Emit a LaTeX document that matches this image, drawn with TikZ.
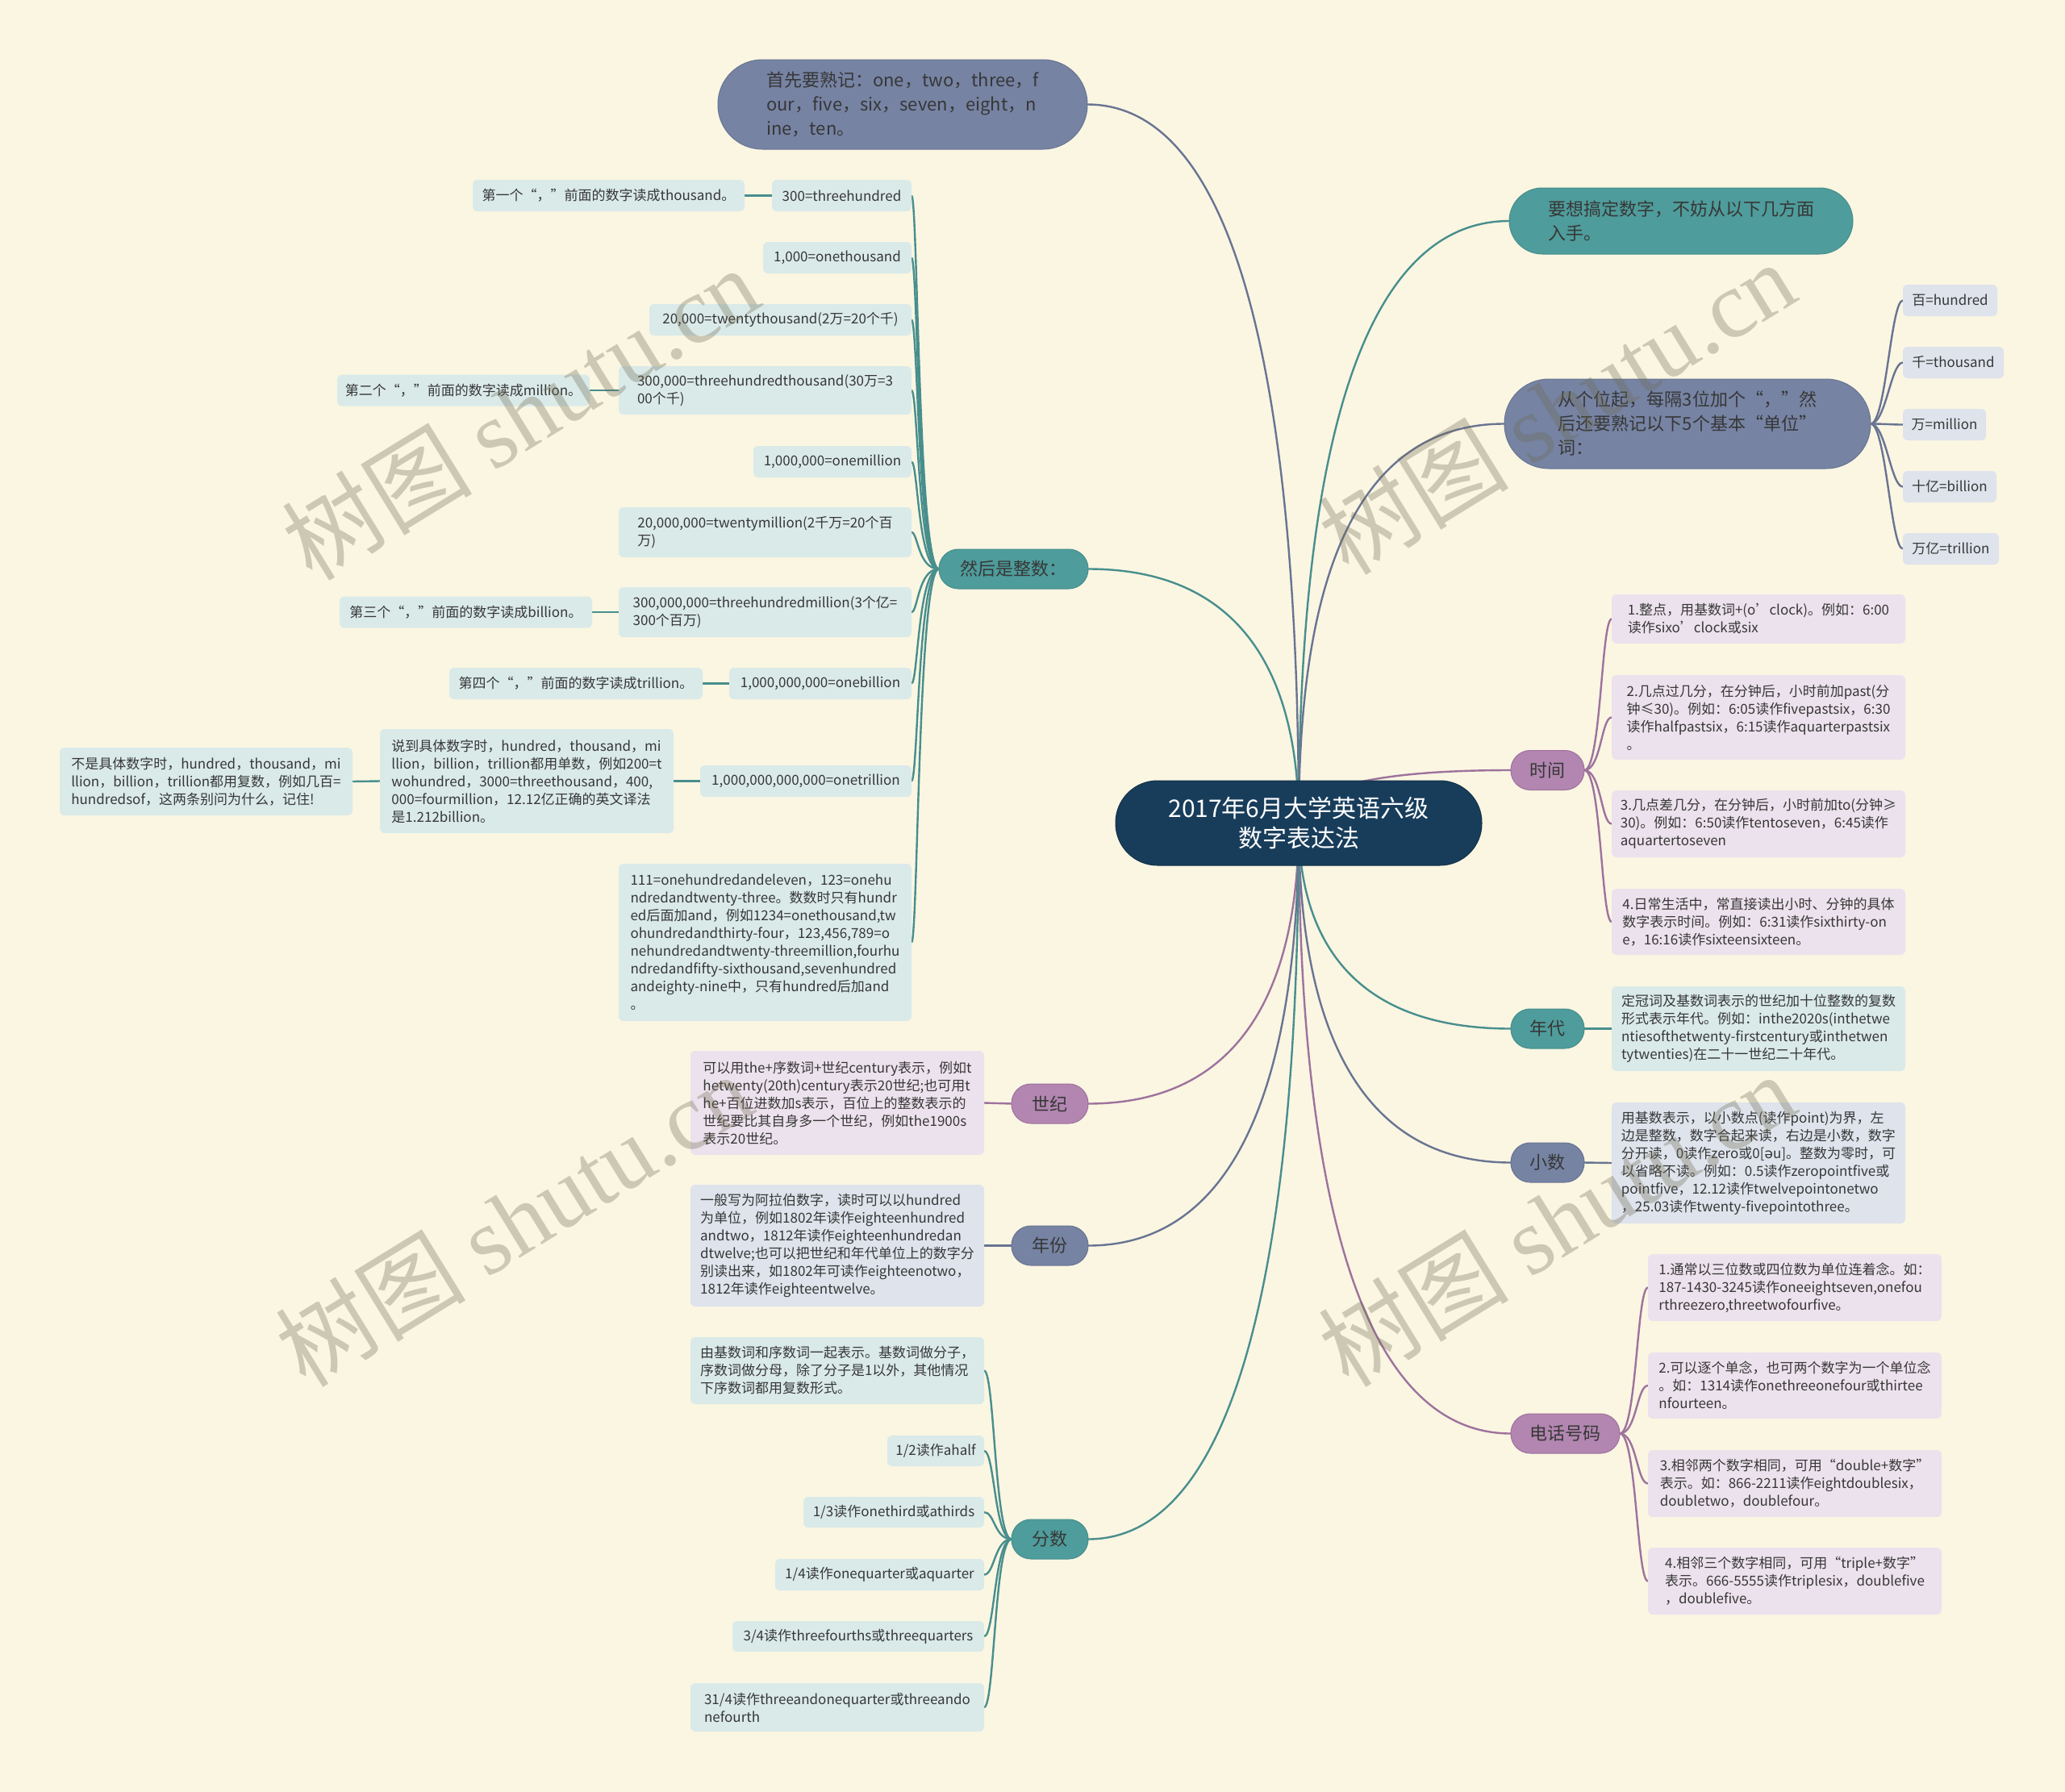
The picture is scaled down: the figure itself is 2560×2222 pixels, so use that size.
\documentclass[tikz,border=0pt]{standalone}
\usepackage{fontspec}
\setmainfont{Noto Sans CJK SC}
\newfontfamily\dejavu{DejaVu Sans}
\newfontfamily\wmserif{Liberation Serif}
\usetikzlibrary{backgrounds}
\definecolor{bgc}{RGB}{250,246,226}
\definecolor{navy}{RGB}{24,61,91}
\definecolor{cTeal}{RGB}{78,156,155}
\definecolor{cSlate}{RGB}{118,131,163}
\definecolor{cMauve}{RGB}{178,134,177}
\definecolor{lTeal}{RGB}{218,234,233}
\definecolor{lSlate}{RGB}{222,227,236}
\definecolor{lMauve}{RGB}{236,226,237}
\definecolor{eTeal}{RGB}{72,142,141}
\definecolor{eSlate}{RGB}{105,116,146}
\definecolor{eMauve}{RGB}{158,114,157}
\definecolor{txt}{RGB}{55,55,55}
\definecolor{wmc}{RGB}{110,105,80}
\newcommand\mybox[6]{\node[#1,minimum width=#4pt,minimum height=#5pt] (#2) at (#3) {#6};}
\tikzset{
  basebox/.style={inner xsep=9pt, inner ysep=6pt, outer sep=0pt, rounded corners=6pt, align=left, text=txt, font=\fontsize{17}{22}\selectfont},
  leafT/.style={basebox, fill=lTeal},
  leafS/.style={basebox, fill=lSlate},
  leafM/.style={basebox, fill=lMauve},
  pillbase/.style={inner xsep=12pt, inner ysep=6pt, outer sep=0pt, align=left, text=txt, font=\fontsize{22}{30}\selectfont},
  labT/.style={pillbase, fill=cTeal, draw=eTeal, line width=1pt, rounded corners=24pt},
  labS/.style={pillbase, fill=cSlate, draw=eSlate, line width=1pt, rounded corners=24pt},
  labM/.style={pillbase, fill=cMauve, draw=eMauve, line width=1pt, rounded corners=24pt},
  bigT/.style={pillbase, fill=cTeal, draw=eTeal, line width=1pt, rounded corners=41pt},
  bigS/.style={pillbase, fill=cSlate, draw=eSlate, line width=1pt, rounded corners=55pt},
  rootst/.style={fill=navy, draw=navy!80!black, line width=1pt, rounded corners=52pt, text=white, align=center, font=\fontsize{30}{37}\selectfont, inner sep=8pt},
  eT/.style={draw=eTeal, line width=2.4pt},
  eS/.style={draw=eSlate, line width=2.4pt},
  eM/.style={draw=eMauve, line width=2.4pt},
  wm/.style={text=wmc, text opacity=0.32, font=\fontsize{118}{118}\selectfont, inner sep=0pt}
}
\begin{document}
\begin{tikzpicture}[x=1pt,y=-1pt]
\useasboundingbox (0,0) rectangle (2560,2222);
\begin{scope}[on background layer]
\fill[bgc] (0,0) rectangle (2560,2222);
\end{scope}

% root
\node[rootst, minimum width=454pt, minimum height=105pt] (root) at (1610,1020.5) {2017年6月大学英语六级\\数字表达法};

% main branches
\mybox{bigS}{L1}{1119,129.5}{458}{111}{首先要熟记：one，two，three，f\\our，five，six，seven，eight，n\\ine，ten。}
\mybox{bigT}{R1}{2084,274}{426}{82}{要想搞定数字，不妨从以下几方面\\入手。}
\mybox{bigS}{R2}{2092,525.5}{454}{111}{从个位起，每隔3位加个“，”然\\后还要熟记以下5个基本“单位”\\词：}
\mybox{labT}{L2}{1256.5,705.5}{185}{49}{然后是整数：}
\mybox{labM}{time}{1918.5,955}{91}{49}{时间}
\mybox{labT}{nd}{1918.5,1275.5}{91}{49}{年代}
\mybox{labS}{xs}{1918.5,1441.5}{91}{49}{小数}
\mybox{labM}{tel}{1940.5,1777.5}{135}{49}{电话号码}
\mybox{labM}{sj}{1301.5,1368.5}{95}{49}{世纪}
\mybox{labS}{nf}{1301.5,1544.5}{95}{49}{年份}
\mybox{labT}{fs}{1301.5,1908.5}{95}{49}{分数}

% units
\mybox{leafS,anchor=west}{u1}{2359,372.5}{117}{39}{百=hundred}
\mybox{leafS,anchor=west}{u2}{2359,449.5}{125}{39}{千=thousand}
\mybox{leafS,anchor=west}{u3}{2359,526.5}{103}{39}{万=million}
\mybox{leafS,anchor=west}{u4}{2359,603.5}{116}{39}{十亿=billion}
\mybox{leafS,anchor=west}{u5}{2359,680.5}{119}{39}{万亿=trillion}

% time
\mybox{leafM,anchor=west}{t1}{1998,767.5}{364}{61}{1.整点，用基数词+(o’clock)。例如：6:00\\读作sixo’clock或six}
\mybox{leafM,anchor=west}{t2}{1998,889.5}{364}{105}{2.几点过几分，在分钟后，小时前加past(分\\钟≤30)。例如：6:05读作fivepastsix，6:30\\读作halfpastsix，6:15读作aquarterpastsix\\。}
\mybox{leafM,anchor=west}{t3}{1998,1021.5}{364}{83}{3.几点差几分，在分钟后，小时前加to(分钟≥\\30)。例如：6:50读作tentoseven，6:45读作\\aquartertoseven}
\mybox{leafM,anchor=west}{t4}{1998,1143}{364}{82}{4.日常生活中，常直接读出小时、分钟的具体\\数字表示时间。例如：6:31读作sixthirty-on\\e，16:16读作sixteensixteen。}

% decade, decimal
\mybox{leafT,anchor=west}{ndc}{1998,1275.5}{364}{105}{定冠词及基数词表示的世纪加十位整数的复数\\形式表示年代。例如：inthe2020s(inthetwe\\ntiesofthetwenty-firstcentury或inthetwen\\tytwenties)在二十一世纪二十年代。}
\mybox{leafS,anchor=west}{xsc}{1998,1442}{364}{150}{用基数表示，以小数点(读作point)为界，左\\边是整数，数字合起来读，右边是小数，数字\\分开读，0读作zero或0[{\dejavu ə}u]。整数为零时，可\\以省略不读。例如：0.5读作zeropointfive或\\pointfive，12.12读作twelvepointonetwo\\，25.03读作twenty-fivepointothree。}

% phone
\mybox{leafM,anchor=west}{p1}{2043,1596.5}{364}{83}{1.通常以三位数或四位数为单位连着念。如：\\187-1430-3245读作oneeightseven,onefou\\rthreezero,threetwofourfive。}
\mybox{leafM,anchor=west}{p2}{2043,1718}{364}{82}{2.可以逐个单念，也可两个数字为一个单位念\\。如：1314读作onethreeonefour或thirtee\\nfourteen。}
\mybox{leafM,anchor=west}{p3}{2043,1839.5}{364}{83}{3.相邻两个数字相同，可用“double+数字”\\表示。如：866-2211读作eightdoublesix，\\doubletwo，doublefour。}
\mybox{leafM,anchor=west}{p4}{2043,1960.5}{364}{83}{4.相邻三个数字相同，可用“triple+数字”\\表示。666-5555读作triplesix，doublefive\\，doublefive。}

% integers
\mybox{leafT,anchor=east}{c1}{1130,242.5}{173}{39}{300=threehundred}
\mybox{leafT,anchor=east}{c2}{1130,319.5}{184}{39}{1,000=onethousand}
\mybox{leafT,anchor=east}{c3}{1130,396.5}{325}{39}{20,000=twentythousand(2万=20个千)}
\mybox{leafT,anchor=east}{c4}{1130,484}{363}{60}{300,000=threehundredthousand(30万=3\\00个千)}
\mybox{leafT,anchor=east}{c5}{1130,572.5}{196}{39}{1,000,000=onemillion}
\mybox{leafT,anchor=east}{c6}{1130,660}{363}{62}{20,000,000=twentymillion(2千万=20个百\\万)}
\mybox{leafT,anchor=east}{c7}{1130,759}{363}{62}{300,000,000=threehundredmillion(3个亿=\\300个百万)}
\mybox{leafT,anchor=east}{c8}{1130,847.5}{226}{39}{1,000,000,000=onebillion}
\mybox{leafT,anchor=east}{c9}{1130,968.5}{262}{39}{1,000,000,000,000=onetrillion}
\mybox{leafT,anchor=east}{c10}{1130,1168.5}{363}{195}{111=onehundredandeleven，123=onehu\\ndredandtwenty-three。数数时只有hundr\\ed后面加and，例如1234=onethousand,tw\\ohundredandthirty-four，123,456,789=o\\nehundredandtwenty-threemillion,fourhu\\ndredandfifty-sixthousand,sevenhundred\\andeighty-nine中，只有hundred后加and\\。}
\mybox{leafT,anchor=east}{d1}{923,242.5}{337}{39}{第一个“，”前面的数字读成thousand。}
\mybox{leafT,anchor=east}{d4}{731,484}{313}{39}{第二个“，”前面的数字读成million。}
\mybox{leafT,anchor=east}{d7}{734,759}{313}{39}{第三个“，”前面的数字读成billion。}
\mybox{leafT,anchor=east}{d8}{871,847.5}{314}{39}{第四个“，”前面的数字读成trillion。}
\mybox{leafT,anchor=east}{d9}{835,968.5}{364}{129}{说到具体数字时，hundred，thousand，mi\\llion，billion，trillion都用单数，例如200=t\\wohundred，3000=threethousand，400,\\000=fourmillion，12.12亿正确的英文译法\\是1.212billion。}
\mybox{leafT,anchor=east}{e9}{437,969}{363}{84}{不是具体数字时，hundred，thousand，mi\\llion，billion，trillion都用复数，例如几百=\\hundredsof，这两条别问为什么，记住!}

% century, year
\mybox{leafM,anchor=east}{sjc}{1220,1367.5}{364}{129}{可以用the+序数词+世纪century表示，例如t\\hetwenty(20th)century表示20世纪;也可用t\\he+百位进数加s表示，百位上的整数表示的\\世纪要比其自身多一个世纪，例如the1900s\\表示20世纪。}
\mybox{leafS,anchor=east}{nfc}{1220,1544.5}{364}{151}{一般写为阿拉伯数字，读时可以以hundred\\为单位，例如1802年读作eighteenhundred\\andtwo，1812年读作eighteenhundredan\\dtwelve;也可以把世纪和年代单位上的数字分\\别读出来，如1802年可读作eighteenotwo，\\1812年读作eighteentwelve。}

% fractions
\mybox{leafT,anchor=east}{f1}{1220,1699.5}{364}{83}{由基数词和序数词一起表示。基数词做分子，\\序数词做分母，除了分子是1以外，其他情况\\下序数词都用复数形式。}
\mybox{leafT,anchor=east}{f2}{1220,1799}{120}{38}{1/2读作ahalf}
\mybox{leafT,anchor=east}{f3}{1220,1875}{224}{38}{1/3读作onethird或athirds}
\mybox{leafT,anchor=east}{f4}{1220,1952.5}{259}{39}{1/4读作onequarter或aquarter}
\mybox{leafT,anchor=east}{f5}{1220,2029}{312}{38}{3/4读作threefourths或threequarters}
\mybox{leafT,anchor=east}{f6}{1220,2117}{364}{60}{31/4读作threeandonequarter或threeando\\nefourth}

% connectors
\begin{scope}[on background layer]
\draw[eS] (root.center) .. controls +(0,-445) and +(210,0) .. (L1.east);
\draw[eT] (root.center) .. controls +(0,-373) and +(-209,0) .. (R1.west);
\draw[eS] (root.center) .. controls +(0,-247) and +(-209,0) .. (R2.west);
\draw[eT] (root.center) .. controls +(0,-157) and +(209,0) .. (L2.east);
\draw[eM] (root.center) .. controls +(0,-32) and +(-210,0) .. (time.west);
\draw[eT] (root.center) .. controls +(0,128) and +(-210,0) .. (nd.west);
\draw[eS] (root.center) .. controls +(0,211) and +(-210,0) .. (xs.west);
\draw[eM] (root.center) .. controls +(0,379) and +(-210,0) .. (tel.west);
\draw[eM] (root.center) .. controls +(0,174) and +(209,0) .. (sj.east);
\draw[eS] (root.center) .. controls +(0,262) and +(209,0) .. (nf.east);
\draw[eT] (root.center) .. controls +(0,444) and +(209,0) .. (fs.east);
\foreach \n in {u1,u2,u3,u4,u5}
  \draw[eS] (R2.east) .. controls +(19,0) and +(-15,0) .. (\n.west);
\foreach \n in {t1,t2,t3,t4}
  \draw[eM] (time.east) .. controls +(21,0) and +(-13,0) .. (\n.west);
\foreach \n in {p1,p2,p3,p4}
  \draw[eM] (tel.east) .. controls +(21,0) and +(-14,0) .. (\n.west);
\foreach \n in {c1,c2,c3,c4,c5,c6,c7,c8,c9,c10}
  \draw[eT] (L2.west) .. controls +(-26,0) and +(8,0) .. (\n.east);
\foreach \n in {f1,f2,f3,f4,f5,f6}
  \draw[eT] (fs.west) .. controls +(-21,0) and +(13,0) .. (\n.east);
\draw[eT] (nd.east) -- (ndc.west);
\draw[eS] (xs.east) -- (xsc.west);
\draw[eM] (sj.west) -- (sjc.east);
\draw[eS] (nf.west) -- (nfc.east);
\draw[eT] (c1.west) -- (d1.east);
\draw[eT] (c4.west) -- (d4.east);
\draw[eT] (c7.west) -- (d7.east);
\draw[eT] (c8.west) -- (d8.east);
\draw[eT] (c9.west) -- (d9.east);
\draw[eT] (d9.west) -- (e9.east);
\end{scope}

% watermarks
\node[wm, rotate=31.6] (wm1) at (645,512) {树图 {\wmserif shutu.cn}};
\node[wm, rotate=31.6] (wm2) at (1930,505) {树图 {\wmserif shutu.cn}};
\node[wm, rotate=31.6] (wm3) at (637,1512) {树图 {\wmserif shutu.cn}};
\node[wm, rotate=31.6] (wm4) at (1930,1512) {树图 {\wmserif shutu.cn}};
\end{tikzpicture}
\end{document}
